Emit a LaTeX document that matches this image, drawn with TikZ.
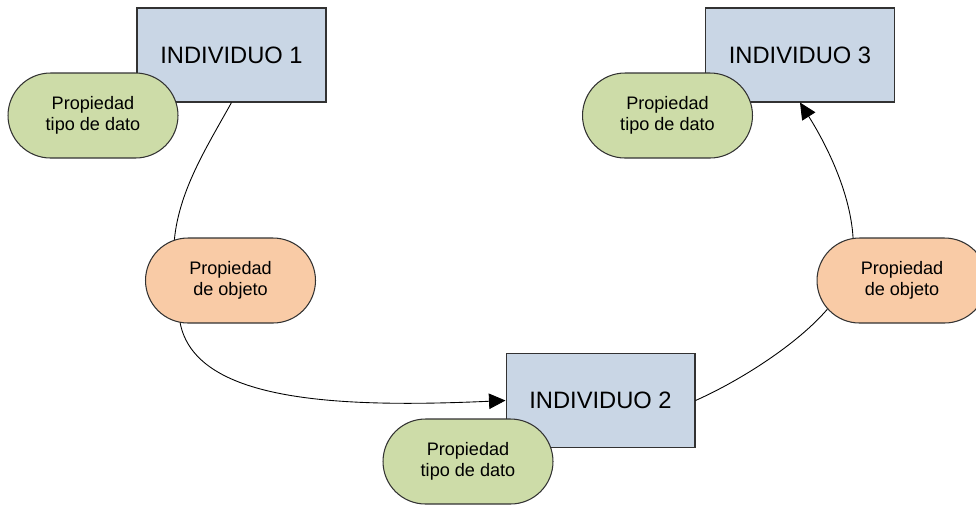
\documentclass[tikz,border=0pt]{standalone}
\usepackage{fontspec}
\setmainfont{Liberation Sans}
\usepackage{tikz}
\usetikzlibrary{arrows.meta,shapes.misc}
\definecolor{indblue}{RGB}{201,214,229}
\definecolor{datgreen}{RGB}{205,220,168}
\definecolor{objorange}{RGB}{249,203,166}
\definecolor{edgegray}{RGB}{50,50,50}

\begin{document}
\begin{tikzpicture}[x=.02cm,y=-.02cm,
    individuo/.style={draw=edgegray,fill=indblue,line width=.6pt,
      minimum width=3.78cm,minimum height=1.88cm,inner sep=0pt,
      font=\fontsize{13.5}{16}\selectfont},
    propdato/.style={rounded rectangle,draw=edgegray,fill=datgreen,line width=.6pt,
      minimum width=3.4cm,minimum height=1.7cm,inner sep=0pt,align=center,
      font=\fontsize{10.3}{11.8}\selectfont},
    propobj/.style={propdato,fill=objorange},
    rel/.style={draw=black,line width=.5pt},
    tip/.style={-{Triangle[length=3.3mm,width=3.1mm]}}]
  \useasboundingbox (0,0) rectangle (976,505);
  \node[individuo] (ind1) at (231.5,55) {INDIVIDUO 1};
  \node[individuo] (ind3) at (800,55) {INDIVIDUO 3};
  \node[individuo] (ind2) at (600.5,400.5) {INDIVIDUO 2};
  \node[propdato] (dato1) at (93,115.5) {Propiedad\\tipo de dato};
  \node[propdato] (dato3) at (667.5,115.5) {Propiedad\\tipo de dato};
  \node[propdato] (dato2) at (468,461.5) {Propiedad\\tipo de dato};
  \node[propobj] (obj1) at (230.5,280.5) {Propiedad\\de objeto};
  \node[propobj] (obj2) at (902,280.5) {Propiedad\\de objeto};
  % relaciones
  \draw[rel] (ind1.south) .. controls +(-25,45) and +(5,-50) .. (obj1.144);
  \draw[rel,tip] (obj1.220) .. controls +(15,77) and +(-176,8) .. (ind2.west);
  \draw[rel] (ind2.east) .. controls +(45,-20) and +(-30,35) .. (obj2.201);
  \draw[rel,tip] (obj2.139) .. controls +(-3,-50) and +(22,35) .. (ind3.south);
\end{tikzpicture}
\end{document}
